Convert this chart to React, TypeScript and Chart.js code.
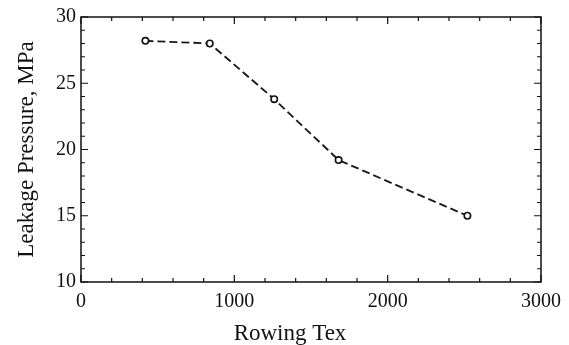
import React, { useEffect, useRef } from "react";
import { Chart, registerables } from "chart.js";

Chart.register(...registerables);

const rowingTex = [420, 840, 1260, 1680, 2520];
const leakagePressure = [28.2, 28.0, 23.8, 19.2, 15.0];
const xTickValues = [0, 1000, 2000, 3000];
const yTickValues = [10, 15, 20, 25, 30];
const xTitle = "Rowing Tex";
const yTitle = "Leakage Pressure, MPa";

const FONT = "'Liberation Serif', 'Times New Roman', serif";

const frameTicks = {
  id: "frameTicks",
  afterDatasetsDraw(chart: any) {
    const { ctx, chartArea: a, scales } = chart;
    const xs = scales.x;
    const ys = scales.y;
    ctx.save();
    ctx.strokeStyle = "#111";
    ctx.lineWidth = 1.5;
    ctx.strokeRect(a.left, a.top, a.right - a.left, a.bottom - a.top);
    ctx.lineWidth = 1.2;
    ctx.beginPath();
    for (let v = xs.min; v <= xs.max; v += 200) {
      const px = xs.getPixelForValue(v);
      const len = v % 1000 === 0 ? 7 : 4;
      ctx.moveTo(px, a.bottom);
      ctx.lineTo(px, a.bottom - len);
      ctx.moveTo(px, a.top);
      ctx.lineTo(px, a.top + len);
    }
    for (let v = ys.min; v <= ys.max; v += 1) {
      const py = ys.getPixelForValue(v);
      const len = v % 5 === 0 ? 7 : 4;
      ctx.moveTo(a.left, py);
      ctx.lineTo(a.left + len, py);
      ctx.moveTo(a.right, py);
      ctx.lineTo(a.right - len, py);
    }
    ctx.stroke();

    ctx.fillStyle = "#111";
    ctx.font = `23px ${FONT}`;
    ctx.textAlign = "center";
    ctx.textBaseline = "alphabetic";
    ctx.fillText(xTitle, 290, 340);
    ctx.translate(27, (a.top + a.bottom) / 2);
    ctx.rotate(-Math.PI / 2);
    ctx.textBaseline = "middle";
    ctx.fillText(yTitle, 0, 0);
    ctx.restore();
  },
};

export default function App() {
  const ref = useRef<HTMLCanvasElement>(null);
  useEffect(() => {
    if (!ref.current) return;
    const chart = new Chart(ref.current, {
      type: "line",
      data: {
        datasets: [
          {
            data: rowingTex.map((x, i) => ({ x, y: leakagePressure[i] })),
            borderColor: "#1a1a1a",
            borderWidth: 1.9,
            borderDash: [8, 4],
            pointRadius: 3.2,
            pointBorderWidth: 1.6,
            pointBorderColor: "#111",
            pointBackgroundColor: "#fff",
            tension: 0,
            fill: false,
          },
        ],
      },
      plugins: [frameTicks],
      options: {
        responsive: false,
        animation: false,
        layout: { padding: { top: 15, right: 28, left: 0, bottom: 0 } },
        plugins: { legend: { display: false }, tooltip: { enabled: false } },
        scales: {
          x: {
            type: "linear",
            min: 0,
            max: 3000,
            afterBuildTicks: (s: any) => {
              s.ticks = xTickValues.map((value) => ({ value }));
            },
            afterFit: (s: any) => {
              s.height = 63;
            },
            grid: { display: false, drawTicks: false },
            border: { display: false },
            ticks: {
              padding: 8,
              color: "#111",
              maxRotation: 0,
              font: { family: FONT, size: 20 },
              callback: (v: any) => String(v),
            },
          },
          y: {
            type: "linear",
            min: 10,
            max: 30,
            afterBuildTicks: (s: any) => {
              s.ticks = yTickValues.map((value) => ({ value }));
            },
            afterFit: (s: any) => {
              s.width = 81;
            },
            grid: { display: false, drawTicks: false },
            border: { display: false },
            ticks: {
              padding: 5,
              color: "#111",
              font: { family: FONT, size: 20 },
              callback: (v: any) => String(v),
            },
          },
        },
      },
    });
    return () => chart.destroy();
  }, []);
  return (
    <div style={{ position: "absolute", left: 0, top: 0, width: 569, height: 345, background: "#fff" }}>
      <canvas ref={ref} width={569} height={345} />
    </div>
  );
}
